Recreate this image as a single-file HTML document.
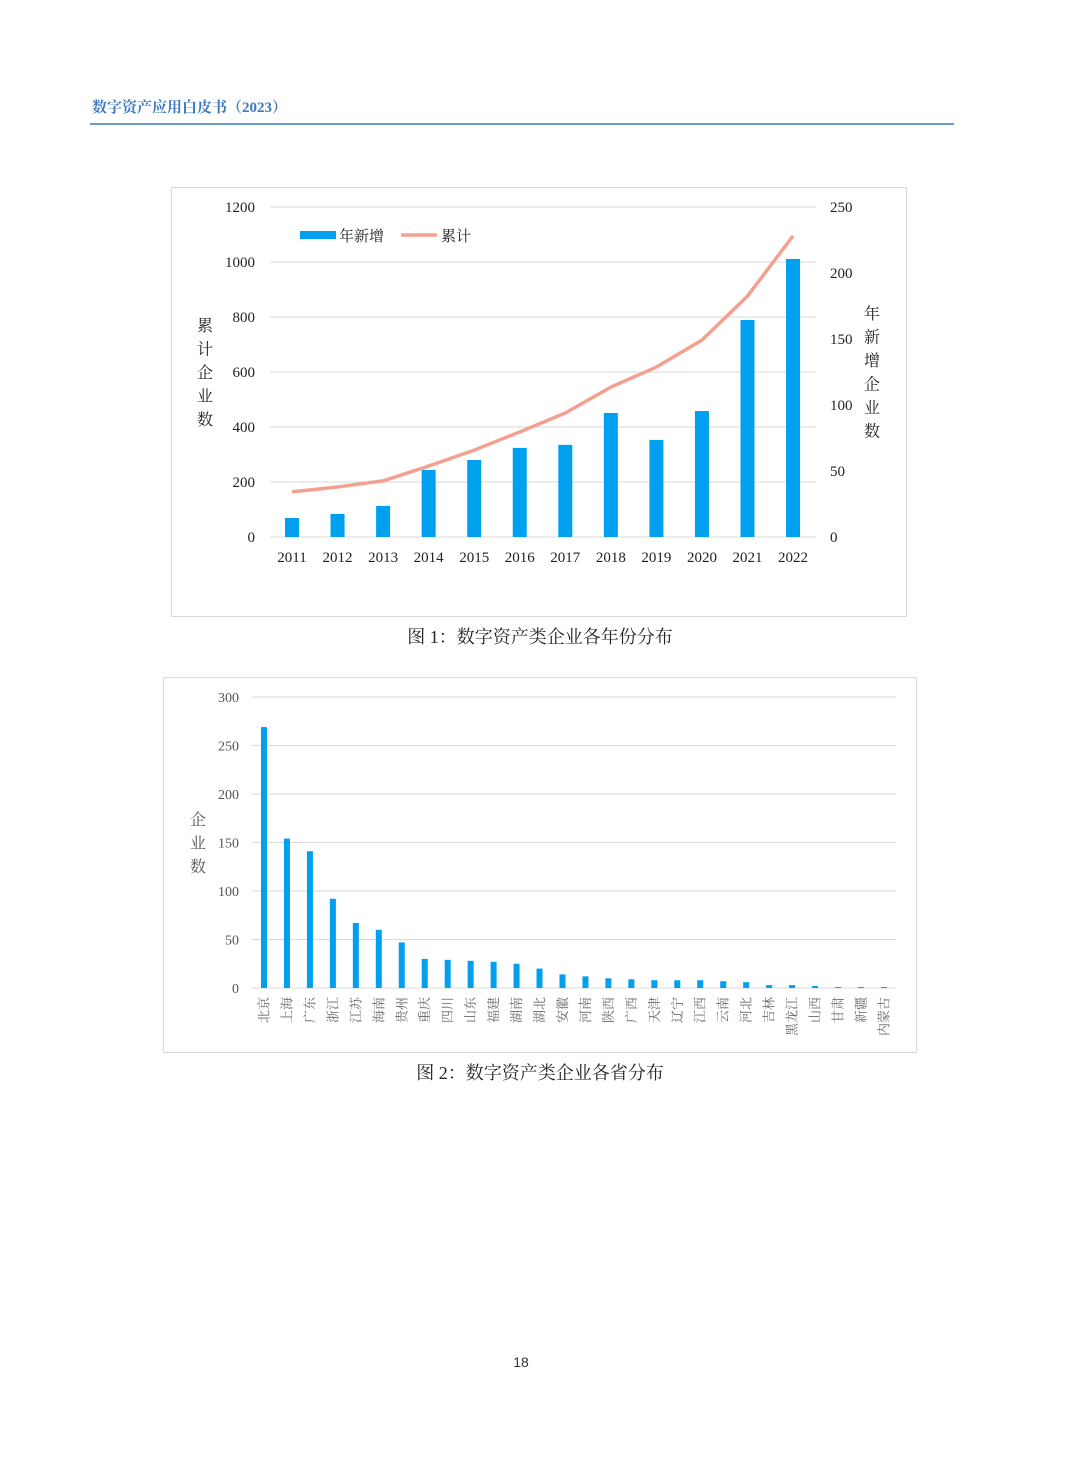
<!DOCTYPE html>
<html><head><meta charset="utf-8"><style>
body{margin:0;background:#fff;}
svg{display:block;font-family:"Liberation Serif","Noto Serif CJK SC",serif;}
</style></head><body>
<svg id="page" width="1080" height="1466" viewBox="0 0 1080 1466">
<text x="92" y="112" font-size="15" font-weight="bold" fill="#3a78c2">数字资产应用白皮书（2023）</text>
<line x1="90" y1="124" x2="954" y2="124" stroke="#3a78c2" stroke-width="1.5"/>
<rect x="171.5" y="187.5" width="735" height="429" fill="#fff" stroke="#d9d9d9"/>
<g id="c1"></g>
<text x="540" y="643" font-size="18" text-anchor="middle" fill="#222">图 1：数字资产类企业各年份分布</text>
<rect x="163.5" y="677.5" width="753" height="375" fill="#fff" stroke="#d9d9d9"/>
<g id="c2"></g>
<text x="540" y="1079" font-size="18" text-anchor="middle" fill="#222">图 2：数字资产类企业各省分布</text>
<text x="521" y="1367" font-size="14" text-anchor="middle" fill="#333" font-family="Liberation Sans, sans-serif">18</text>
</svg>
<script>
const years=["2011","2012","2013","2014","2015","2016","2017","2018","2019","2020","2021","2022"];
const barValues=[69,84,113,244,280,324,335,451,353,458,789,1011];
const lineValues=[164,182,204,258,316,382,451,545,618,716,876,1095];
const leftTicks=[0,200,400,600,800,1000,1200];
const rightTicks=[0,50,100,150,200,250];
const provinces=["北京","上海","广东","浙江","江苏","海南","贵州","重庆","四川","山东","福建","湖南","湖北","安徽","河南","陕西","广西","天津","辽宁","江西","云南","河北","吉林","黑龙江","山西","甘肃","新疆","内蒙古"];
const provinceValues=[269,154,141,92,67,60,47,30,29,28,27,25,20,14,12,10,9,8,8,8,7,6,3,3,2,1,1,1];
const c2Ticks=[0,50,100,150,200,250,300];
const NS="http://www.w3.org/2000/svg";
function mk(p,tag,a,txt){const e=document.createElementNS(NS,tag);for(const k in a)e.setAttribute(k,a[k]);if(txt!==undefined)e.textContent=txt;p.appendChild(e);return e;}
const g1=document.getElementById('c1');
const y1=v=>537-v*330/1200, yr=v=>537-v*330/250;
const x1=i=>292+i*45.55;
leftTicks.forEach(t=>{
 const l=mk(g1,'line',{x1:270,x2:816,y1:y1(t),y2:y1(t),stroke:'#d9d9d9'});
 
 
 const tx=mk(g1,'text',{x:255,y:y1(t)+5,'font-size':15,'text-anchor':'end',fill:'#222'},t);
 
 
});
rightTicks.forEach(t=>{
 const tx=mk(g1,'text',{x:830,y:yr(t)+5,'font-size':15,fill:'#222'},t);
 
 
});
years.forEach((yv,i)=>{
 const b=mk(g1,'rect',{x:x1(i)-7,y:y1(barValues[i]),width:14,height:537-y1(barValues[i]),fill:'#00a0f0'});
 
 
 const tx=mk(g1,'text',{x:x1(i),y:562,'font-size':15,'text-anchor':'middle',fill:'#222'},yv);
 
 
});
const pl=mk(g1,'polyline',{points:lineValues.map((v,i)=>x1(i)+','+y1(v)).join(' '),fill:'none',stroke:'#f4a090','stroke-width':3.5,'stroke-linejoin':'round'});


"累计企业数".split('').forEach((ch,i)=>{const t=mk(g1,'text',{x:205,y:331+i*23.5,'font-size':16,'text-anchor':'middle',fill:'#222'},ch);
 
 });
"年新增企业数".split('').forEach((ch,i)=>{const t=mk(g1,'text',{x:872,y:319+i*23.5,'font-size':16,'text-anchor':'middle',fill:'#222'},ch);
 
 });
const lg1=mk(g1,'rect',{x:300,y:231,width:36,height:8,fill:'#00a0f0'});


const lt1=mk(g1,'text',{x:339,y:241,'font-size':15,fill:'#222'},'年新增');


const lg2=mk(g1,'line',{x1:401,x2:437,y1:235,y2:235,stroke:'#f4a090','stroke-width':3.5});


const lt2=mk(g1,'text',{x:441,y:241,'font-size':15,fill:'#222'},'累计');


const g2=document.getElementById('c2');
const y2=v=>988-v*291/300, x2=i=>264+i*22.96;
c2Ticks.forEach(t=>{
 const l=mk(g2,'line',{x1:252,x2:896,y1:y2(t),y2:y2(t),stroke:'#d9d9d9'});
 
 
 const tx=mk(g2,'text',{x:239,y:y2(t)+5,'font-size':14,'text-anchor':'end',fill:'#555'},t);
 
 
});
"企业数".split('').forEach((ch,i)=>{const t=mk(g2,'text',{x:198,y:825+i*23.5,'font-size':16,'text-anchor':'middle',fill:'#555'},ch);
 
 });
provinces.forEach((p,i)=>{
 const v=provinceValues[i];
 const b=mk(g2,'rect',{x:x2(i)-3,y:y2(v),width:6,height:988-y2(v),fill:'#00a0f0'});
 
 
 const tx=mk(g2,'text',{x:0,y:0,'font-size':13,'text-anchor':'end',fill:'#666',transform:`translate(${x2(i)+4.5},997) rotate(-90)`},p);
 
 
});
</script>
</body></html>
